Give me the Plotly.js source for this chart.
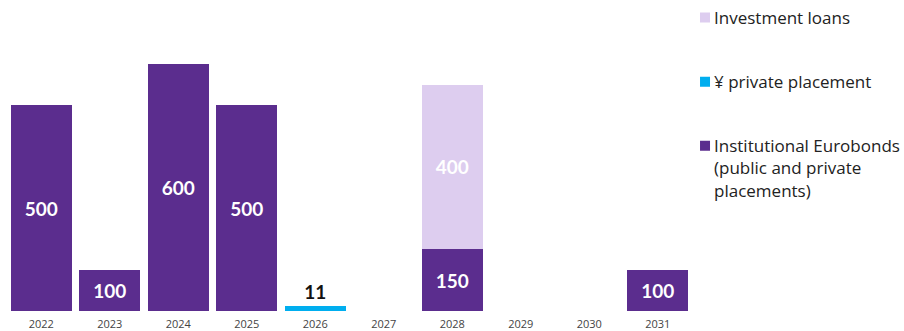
<!DOCTYPE html>
<html><head><meta charset="utf-8">
<script src="https://cdn.plot.ly/plotly-3.0.1.min.js"></script>
<style>html,body{margin:0;padding:0;background:#fff}#chart{width:904px;height:331px}
#chart .legendpoints{translate:11px 0px;}
#chart .legendpoints path{stroke:#ffffff !important; stroke-width:2px !important; stroke-opacity:1 !important;}
</style>
</head><body><div id="chart"></div>
<script>
const years = ['2022','2023','2024','2025','2026','2027','2028','2029','2030','2031'];
const eurobonds = [500,100,600,500,null,null,150,null,null,100];
const yenPlacement = [null,null,null,null,11,null,null,null,null,null];
const investmentLoans = [null,null,null,null,null,null,400,null,null,null];
const seriesNames = ['Institutional Eurobonds<br>(public and private<br>placements)','¥ private placement','Investment loans'];

const FONT = '"Open Sans", sans-serif';
const LBL = 'Lato, "Open Sans", sans-serif';
const traces = [
  {type:'bar', x:years, y:eurobonds, name:seriesNames[0], legendgroup:'a', legendrank:3,
   marker:{color:'#5b2d8e'}, text:eurobonds.map(v=>v==null?'':String(v)),
   textposition:'inside', insidetextanchor:'middle', textangle:0,
   textfont:{color:'#ffffff', size:19, family:LBL, weight:700}, hoverinfo:'x+y'},
  {type:'bar', x:years, y:yenPlacement, name:seriesNames[1], legendgroup:'b', legendrank:2,
   marker:{color:'#00aeef'}, text:yenPlacement.map(v=>v==null?'':String(v)),
   textposition:'outside', textangle:0, cliponaxis:false,
   textfont:{color:'#111111', size:19, family:LBL, weight:700}, hoverinfo:'x+y'},
  {type:'bar', x:years, y:investmentLoans, name:seriesNames[2], legendgroup:'c', legendrank:1,
   marker:{color:'#ddcdef'}, text:investmentLoans.map(v=>v==null?'':String(v)),
   textposition:'inside', insidetextanchor:'middle', textangle:0,
   textfont:{color:'#ffffff', size:19, family:LBL, weight:700}, hoverinfo:'x+y'}
];
const layout = {
  width:904, height:331,
  margin:{l:7, r:212, t:10, b:20, autoexpand:false},
  barmode:'stack', bargap:0.115,
  paper_bgcolor:'#fff', plot_bgcolor:'#fff',
  font:{family:FONT, color:'#222'},
  xaxis:{type:'category', showgrid:false, zeroline:false, showline:false, ticks:'',
    tickfont:{size:11, color:'#444', family:FONT}, ticklabelstandoff:5, automargin:false},
  yaxis:{visible:false, range:[0,731], showgrid:false, zeroline:false},
  showlegend:true,
  legend:{xref:'container', yref:'container', x:0.7456, y:1.022, xanchor:'left', yanchor:'top',
    traceorder:'grouped', tracegroupgap:39, valign:'top', maxheight:330,
    font:{size:17, color:'#222', family:FONT},
    itemwidth:30, bgcolor:'rgba(0,0,0,0)'}
};
Plotly.newPlot('chart', traces, layout, {displayModeBar:false, staticPlot:true});
</script></body></html>
